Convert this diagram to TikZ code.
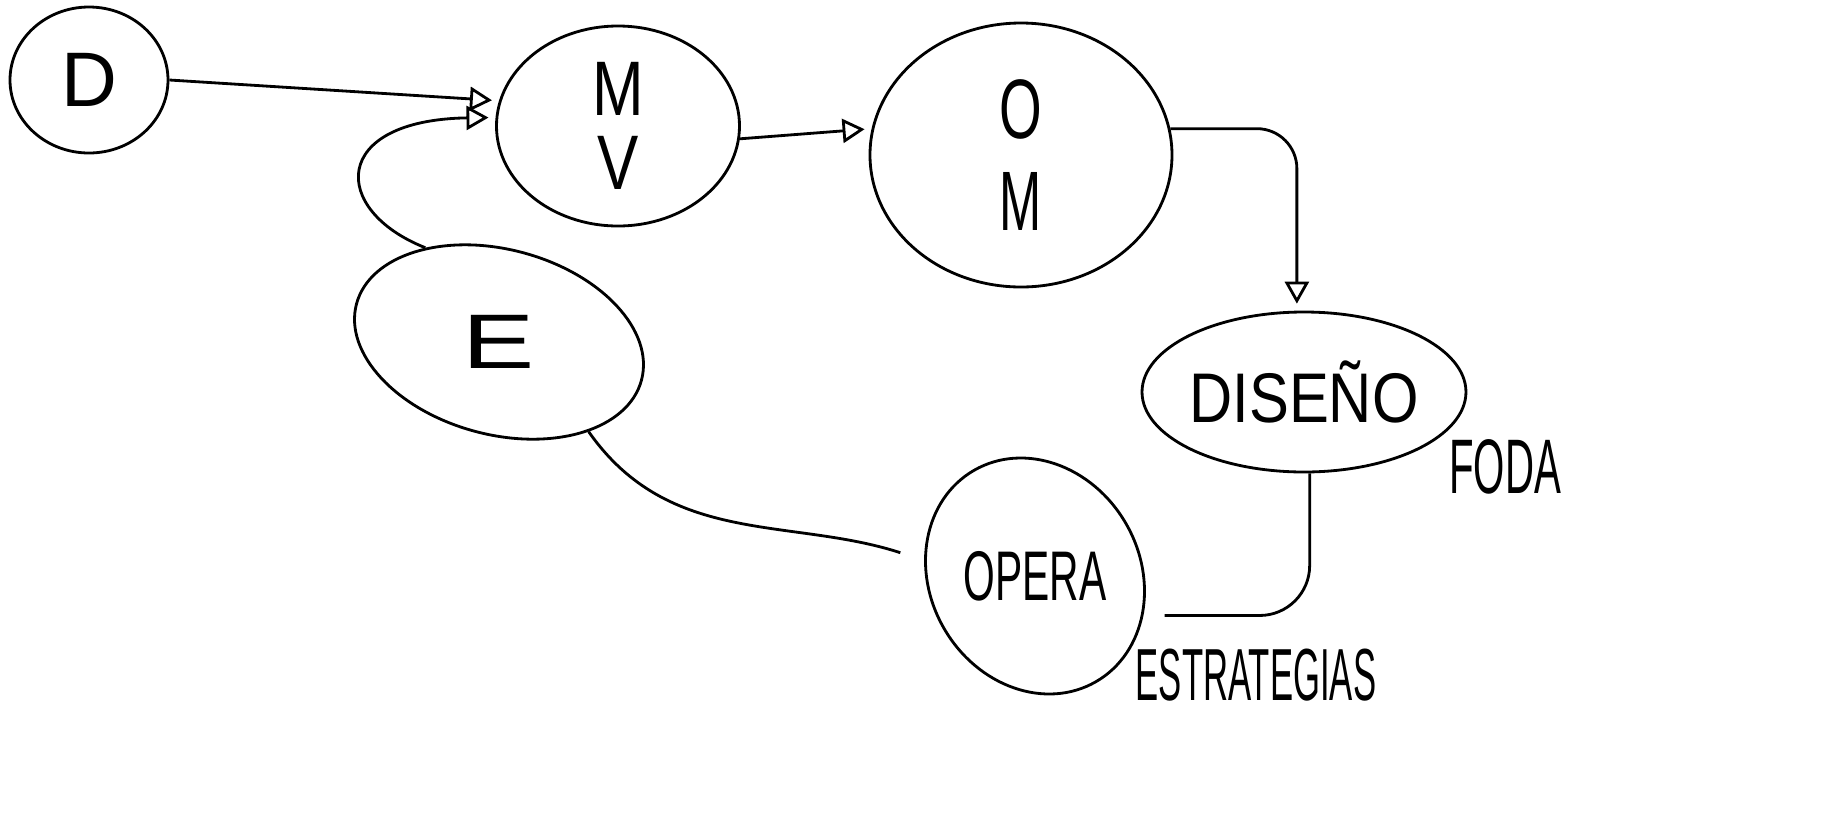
\documentclass[tikz,border=0pt]{standalone}
\usepackage{fontspec}
\setmainfont{Liberation Sans}
\usepackage{graphicx}
\usetikzlibrary{arrows.meta, positioning, shapes.geometric}
\newcommand{\narrowtext}[2]{\scalebox{#1}[1]{#2}}
\begin{document}
\begin{tikzpicture}[bubble/.style={draw, ellipse, line width=0.8pt, inner sep=0pt, align=center},
    link/.style={-{Triangle[open, length=2.2mm, width=2.4mm]}, line width=0.8pt, shorten >=2pt},
    plain/.style={line width=0.8pt}]
            \useasboundingbox (0,0) rectangle (18.23,8.27);
            \node[bubble, minimum width=1.58cm, minimum height=1.46cm, font=\fontsize{22}{22}\selectfont] (d) at (0.89,7.47) {D};
            \node[bubble, minimum width=2.43cm, minimum height=2.0cm, font=\fontsize{22}{21}\selectfont] (m) at (6.18,7.01) {\narrowtext{0.8}{M}\\\narrowtext{0.8}{V}};
            \node[bubble, minimum width=3.02cm, minimum height=2.64cm, font=\fontsize{24}{26}\selectfont] (o) at (10.21,6.72) {\narrowtext{0.65}{O}\\\narrowtext{0.6}{M}};
            \node[bubble, minimum width=2.95cm, minimum height=1.85cm, rotate=-15, font=\fontsize{22}{22}\selectfont] (e) at (4.99,4.85) {\rotatebox{15}{\narrowtext{1.4}{E}}};
            \node[bubble, minimum width=3.22cm, minimum height=1.60cm, font=\fontsize{20}{20}\selectfont] (dis) at (13.04,4.35) {\narrowtext{0.85}{DISEÑO}};
            \node[bubble, minimum width=2.44cm, minimum height=2.0cm, rotate=-60, font=\fontsize{20}{20}\selectfont] (opera) at (10.35,2.51) {\rotatebox{60}{\narrowtext{0.58}{OPERA}}};
            \node[font=\fontsize{22}{22}\selectfont] (foda) at (15.05,3.60) {\narrowtext{0.52}{FODA}};
            \node[font=\fontsize{21}{21}\selectfont] (estr) at (12.56,1.52) {\narrowtext{0.47}{ESTRATEGIAS}};

            \draw[link] (d.east) -- (m.168);
            \draw[link] (e.143) .. controls (3.3,6.17) and (3.3,7.07) .. (m.176);
            \draw[link] (m.-6) -- (o.170);
            \draw[link, rounded corners=0.4cm] (o.10) -| (dis.95);
            \draw[plain, shorten >=0.25cm] (e.-30) to[out=-55, in=162] (opera.232);
            \draw[plain, rounded corners=0.5cm, shorten >=6pt] (dis.-86) |- (opera.40);
        \end{tikzpicture}
\end{document}
